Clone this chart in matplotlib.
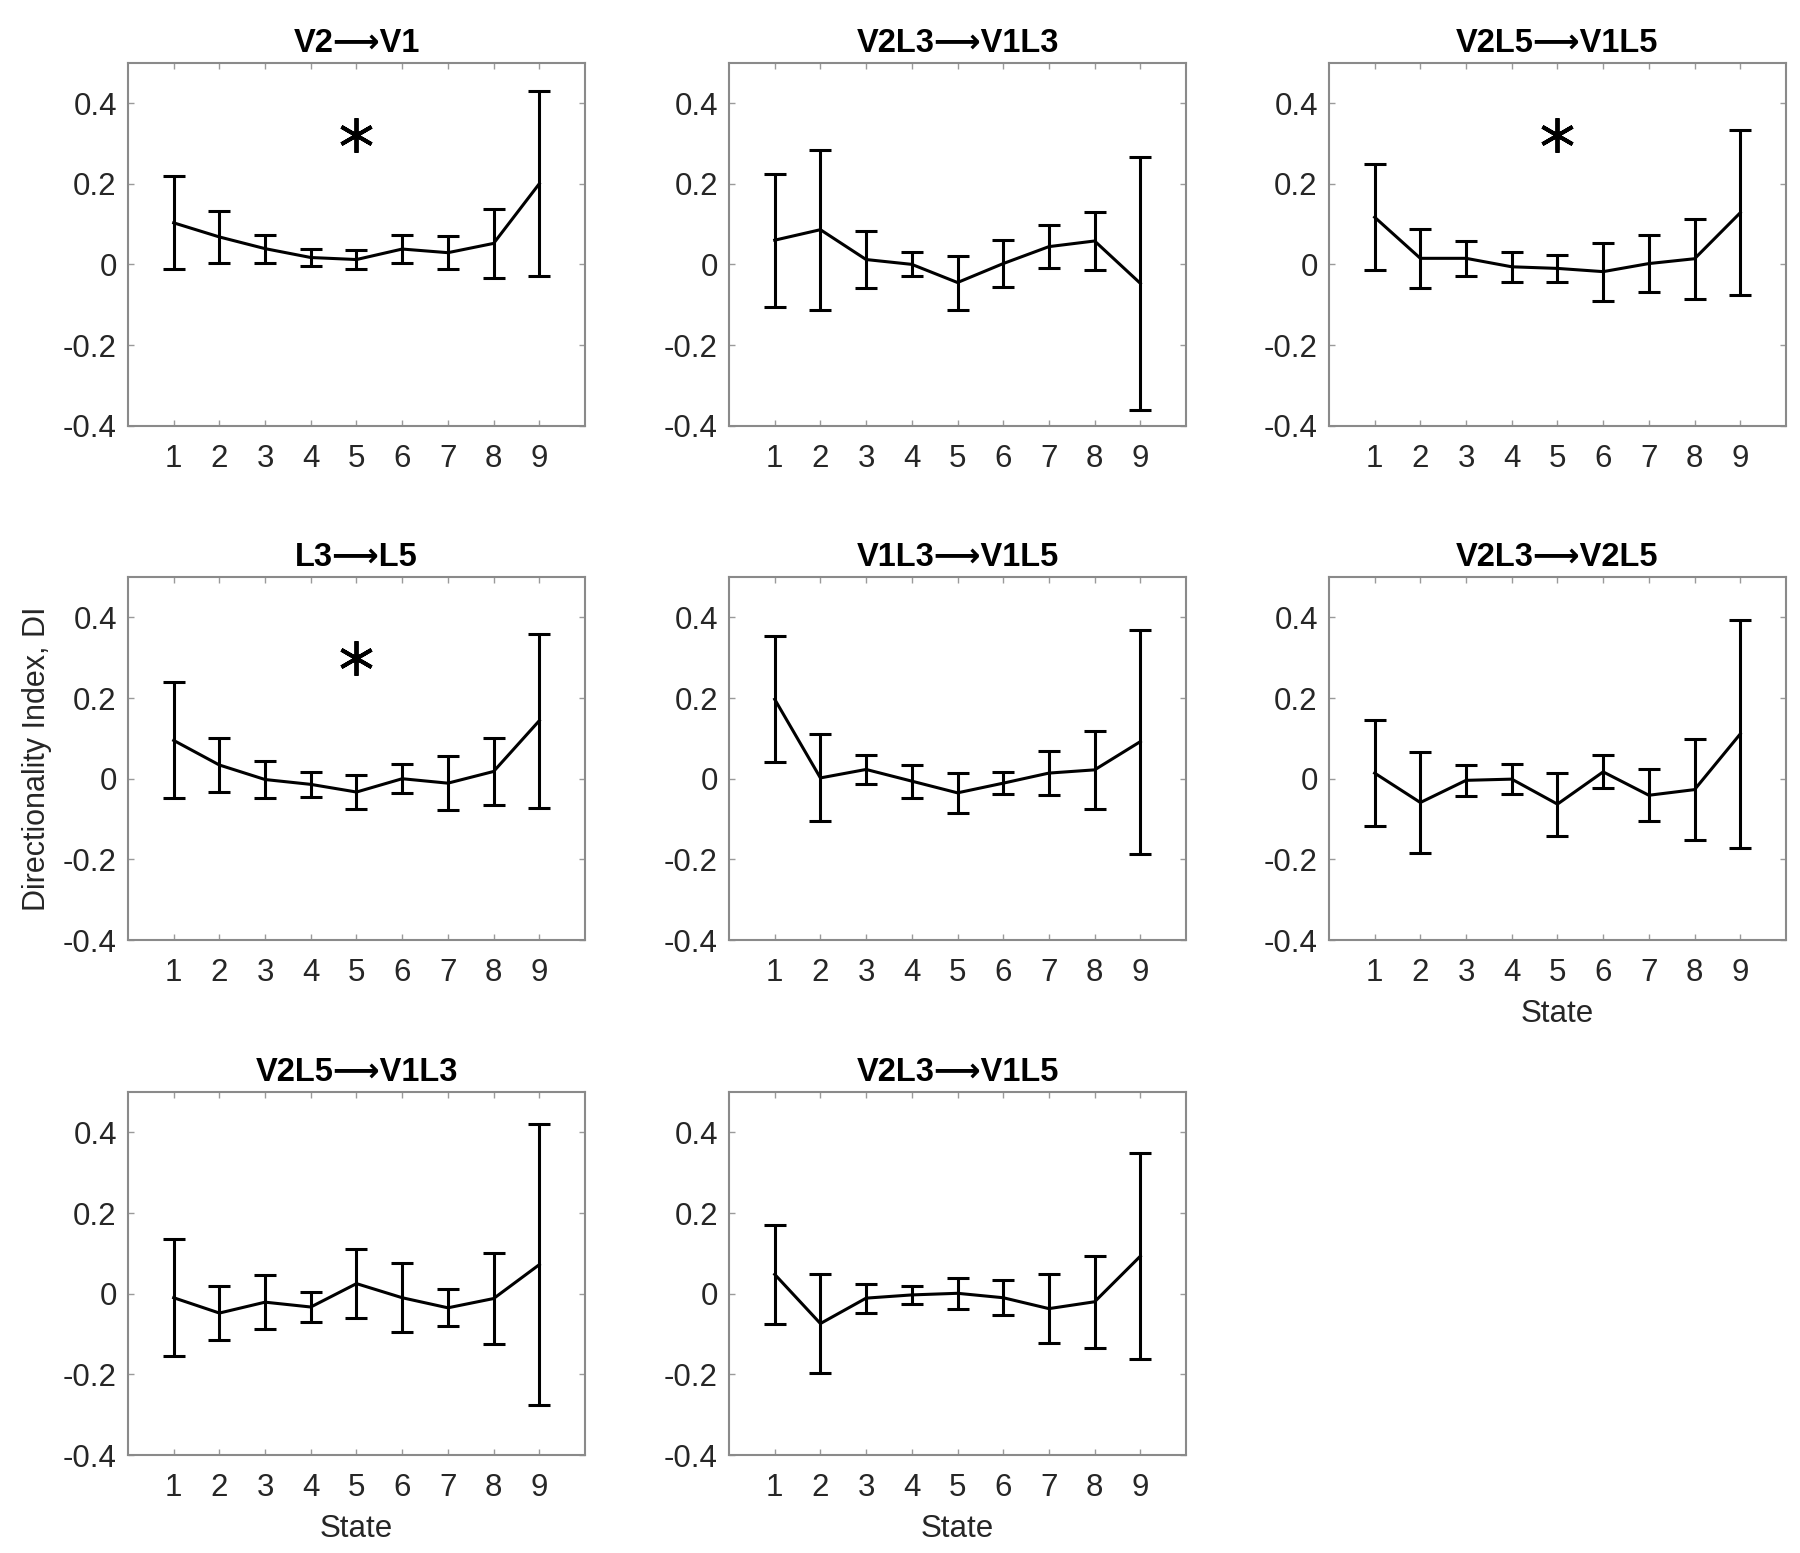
import matplotlib
matplotlib.use('Agg')
import matplotlib.pyplot as plt

plt.rcParams['font.family'] = ['Liberation Sans', 'DejaVu Sans']
plt.rcParams['axes.unicode_minus'] = False

states = [1, 2, 3, 4, 5, 6, 7, 8, 9]
yticks = [-0.4, -0.2, 0, 0.2, 0.4]
ytick_labels = ['-0.4', '-0.2', '0', '0.2', '0.4']

# mean DI and error bar half-length, per connection
di_v2_v1 = [0.103, 0.068, 0.039, 0.017, 0.012, 0.038, 0.029, 0.052, 0.200]
err_v2_v1 = [0.115, 0.064, 0.035, 0.021, 0.024, 0.034, 0.041, 0.085, 0.230]

di_v2l3_v1l3 = [0.060, 0.086, 0.012, 0.000, -0.045, 0.002, 0.044, 0.058, -0.047]
err_v2l3_v1l3 = [0.165, 0.198, 0.070, 0.030, 0.067, 0.058, 0.054, 0.072, 0.314]

di_v2l5_v1l5 = [0.117, 0.015, 0.015, -0.006, -0.010, -0.018, 0.002, 0.014, 0.128]
err_v2l5_v1l5 = [0.131, 0.073, 0.043, 0.037, 0.034, 0.072, 0.070, 0.099, 0.204]

di_l3_l5 = [0.095, 0.034, -0.002, -0.014, -0.033, 0.000, -0.011, 0.018, 0.144]
err_l3_l5 = [0.144, 0.068, 0.046, 0.031, 0.041, 0.036, 0.067, 0.082, 0.216]

di_v1l3_v1l5 = [0.197, 0.002, 0.023, -0.006, -0.035, -0.011, 0.014, 0.022, 0.092]
err_v1l3_v1l5 = [0.156, 0.108, 0.035, 0.041, 0.050, 0.028, 0.054, 0.096, 0.278]

di_v2l3_v2l5 = [0.014, -0.059, -0.004, -0.001, -0.063, 0.017, -0.041, -0.027, 0.111]
err_v2l3_v2l5 = [0.132, 0.125, 0.039, 0.038, 0.078, 0.041, 0.064, 0.126, 0.282]

di_v2l5_v1l3 = [-0.010, -0.048, -0.021, -0.033, 0.025, -0.010, -0.035, -0.012, 0.072]
err_v2l5_v1l3 = [0.145, 0.067, 0.067, 0.037, 0.085, 0.085, 0.046, 0.112, 0.348]

di_v2l3_v1l5 = [0.048, -0.074, -0.011, -0.003, 0.001, -0.010, -0.037, -0.020, 0.093]
err_v2l3_v1l5 = [0.122, 0.122, 0.036, 0.022, 0.038, 0.043, 0.085, 0.114, 0.256]

sources = ['V2', 'V2L3', 'V2L5', 'L3', 'V1L3', 'V2L3', 'V2L5', 'V2L3']
targets = ['V1', 'V1L3', 'V1L5', 'L5', 'V1L5', 'V2L5', 'V1L3', 'V1L5']
means = [di_v2_v1, di_v2l3_v1l3, di_v2l5_v1l5, di_l3_l5,
         di_v1l3_v1l5, di_v2l3_v2l5, di_v2l5_v1l3, di_v2l3_v1l5]
errs = [err_v2_v1, err_v2l3_v1l3, err_v2l5_v1l5, err_l3_l5,
        err_v1l3_v1l5, err_v2l3_v2l5, err_v2l5_v1l3, err_v2l3_v1l5]

# significance stars: panel index -> (state, y)
stars = {0: (5, 0.32), 2: (5, 0.32), 3: (5, 0.30)}

col_left = [0.0711, 0.405, 0.7383]
row_bottom = [0.7259, 0.3947, 0.0631]
ax_w, ax_h = 0.2539, 0.2337

fig = plt.figure(figsize=(18, 15.53), dpi=100)

for i in range(len(means)):
    r, c = divmod(i, 3)
    ax = fig.add_axes([col_left[c], row_bottom[r], ax_w, ax_h])
    ax.errorbar(states, means[i], yerr=errs[i], color='black', lw=2.2,
                elinewidth=2.2, capsize=8, capthick=2.2)
    if i in stars:
        sx, sy = stars[i]
        ax.plot([sx], [sy], marker=(6, 2, 0), ms=25, mew=2.8, color='black', ls='none')
    ax.set_xlim(0, 10)
    ax.set_ylim(-0.4, 0.5)
    ax.set_xticks(states)
    ax.set_yticks(yticks)
    ax.set_yticklabels(ytick_labels)
    ax.tick_params(direction='in', top=True, right=True, length=4, width=1,
                   color='#9a9a9a', labelsize=22.5, labelcolor='#262626')
    ax.tick_params(axis='x', pad=13)
    ax.tick_params(axis='y', pad=8)
    for s in ax.spines.values():
        s.set_color('#8a8a8a')
        s.set_linewidth(1.5)
    title = sources[i] + '\u27f6' + targets[i]
    ax.set_title(title, fontsize=23.5, fontweight='bold', pad=8)
    if i == 3:
        ax.set_ylabel('Directionality Index, DI', fontsize=22, color='#262626', labelpad=8)
    if i in (5, 6, 7):
        ax.set_xlabel('State', fontsize=22.5, color='#262626', labelpad=8)

fig.savefig('out.png', dpi=100, facecolor='white')
